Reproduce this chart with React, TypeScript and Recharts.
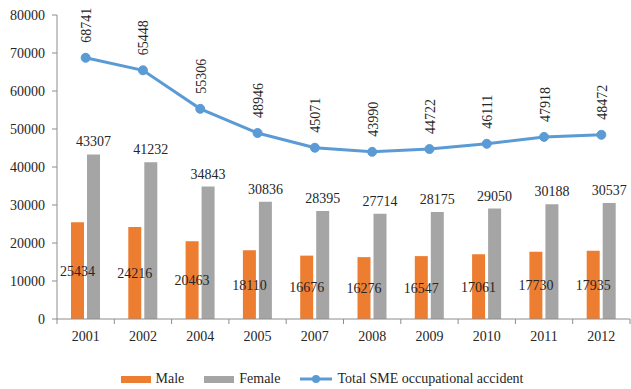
import React from 'react';
import { ComposedChart, Bar, Line, XAxis, YAxis, Legend, LabelList } from 'recharts';

const years = ['2001', '2002', '2004', '2005', '2007', '2008', '2009', '2010', '2011', '2012'];
const male = [25434, 24216, 20463, 18110, 16676, 16276, 16547, 17061, 17730, 17935];
const female = [43307, 41232, 34843, 30836, 28395, 27714, 28175, 29050, 30188, 30537];
const total = [68741, 65448, 55306, 48946, 45071, 43990, 44722, 46111, 47918, 48472];
const yTicks = [0, 10000, 20000, 30000, 40000, 50000, 60000, 70000, 80000];

const CHART_W = 631;
const CHART_H = 389;
const MARGIN = { top: 15, right: 1, bottom: 0, left: 0 };
const Y_AXIS_W = 57;
// width of one category band, used to put x tick marks between the years
const BAND = (CHART_W - MARGIN.left - MARGIN.right - Y_AXIS_W) / years.length;

const FONT = '"Liberation Serif", "Times New Roman", serif';
const TEXT = '#262626';
const AXIS = '#8c8c8c';
const ORANGE = '#ED7D31';
const GRAY = '#A5A5A5';
const BLUE = '#5B9BD5';

const SERIES_ORDER = ['male', 'female', 'total'];

const data = years.map((year, i) => ({
    year,
    male: male[i],
    female: female[i],
    total: total[i],
}));

const YearTick = (props: any) => {
    const { x, y, payload, index } = props;
    const left = x - BAND / 2;
    const right = x + BAND / 2;
    return (
        <g>
            <line x1={left} x2={left} y1={y - 7} y2={y - 2} stroke={AXIS} />
            {index === years.length - 1 && <line x1={right} x2={right} y1={y - 7} y2={y - 2} stroke={AXIS} />}
            <text x={x} y={y + 15} textAnchor="middle" fontFamily={FONT} fontSize={14} fill={TEXT}>
                {payload.value}
            </text>
        </g>
    );
};

// total line: circle marker plus the value written upwards above it
const TotalDot = (props: any) => {
    const { cx, cy, payload, index } = props;
    const tx = cx + 1;
    const ty = cy - 15;
    return (
        <g key={`dot-${index}`}>
            <circle cx={cx} cy={cy} r={4.5} fill={BLUE} stroke={BLUE} />
            <text
                x={tx}
                y={ty}
                transform={`rotate(-90 ${tx} ${ty})`}
                textAnchor="start"
                dominantBaseline="central"
                fontFamily={FONT}
                fontSize={14}
                fill={TEXT}
            >
                {payload.total}
            </text>
        </g>
    );
};

const LegendContent = (props: any) => {
    const payload = [...(props.payload || [])].sort(
        (a: any, b: any) => SERIES_ORDER.indexOf(a.dataKey) - SERIES_ORDER.indexOf(b.dataKey)
    );
    return (
        <div
            style={{
                display: 'flex',
                justifyContent: 'center',
                alignItems: 'center',
                height: 20,
                paddingLeft: 14,
                fontFamily: FONT,
                fontSize: 14,
                color: TEXT,
            }}
        >
            {payload.map((entry: any, i: number) => (
                <div key={i} style={{ display: 'flex', alignItems: 'center', marginLeft: i === 0 ? 0 : 20 }}>
                    {entry.type === 'line' ? (
                        <svg width={32} height={10}>
                            <line x1={0} x2={32} y1={5} y2={5} stroke={entry.color} strokeWidth={3} />
                            <circle cx={16} cy={5} r={4} fill={entry.color} />
                        </svg>
                    ) : (
                        <div style={{ width: 30, height: 7, background: entry.color }} />
                    )}
                    <span style={{ marginLeft: 5 }}>{entry.value}</span>
                </div>
            ))}
        </div>
    );
};

const App: React.FC = () => {
    return (
        <div style={{ position: 'absolute', left: 0, top: 0, background: '#fff' }}>
            <ComposedChart width={CHART_W} height={CHART_H} data={data} margin={MARGIN} barSize={13} barGap={3}>
                <XAxis
                    dataKey="year"
                    height={50}
                    stroke={AXIS}
                    tickLine={false}
                    tickSize={5}
                    tickMargin={2}
                    tick={YearTick}
                    interval={0}
                />
                <YAxis
                    width={Y_AXIS_W}
                    domain={[0, 80000]}
                    ticks={yTicks}
                    stroke={AXIS}
                    tickSize={5}
                    tickMargin={7}
                    tick={{ fontFamily: FONT, fontSize: 14, fill: TEXT }}
                    interval={0}
                />
                <Legend verticalAlign="bottom" height={20} content={LegendContent} />
                <Bar dataKey="male" name="Male" fill={ORANGE} isAnimationActive={false}>
                    <LabelList dataKey="male" position="center" fontFamily={FONT} fontSize={14} fill={TEXT} />
                </Bar>
                <Bar dataKey="female" name="Female" fill={GRAY} isAnimationActive={false}>
                    <LabelList dataKey="female" position="top" offset={8} fontFamily={FONT} fontSize={14} fill={TEXT} />
                </Bar>
                <Line
                    type="linear"
                    dataKey="total"
                    name="Total SME occupational accident"
                    stroke={BLUE}
                    strokeWidth={3}
                    dot={TotalDot}
                    activeDot={false}
                    legendType="line"
                    isAnimationActive={false}
                />
            </ComposedChart>
        </div>
    );
};

export default App;
